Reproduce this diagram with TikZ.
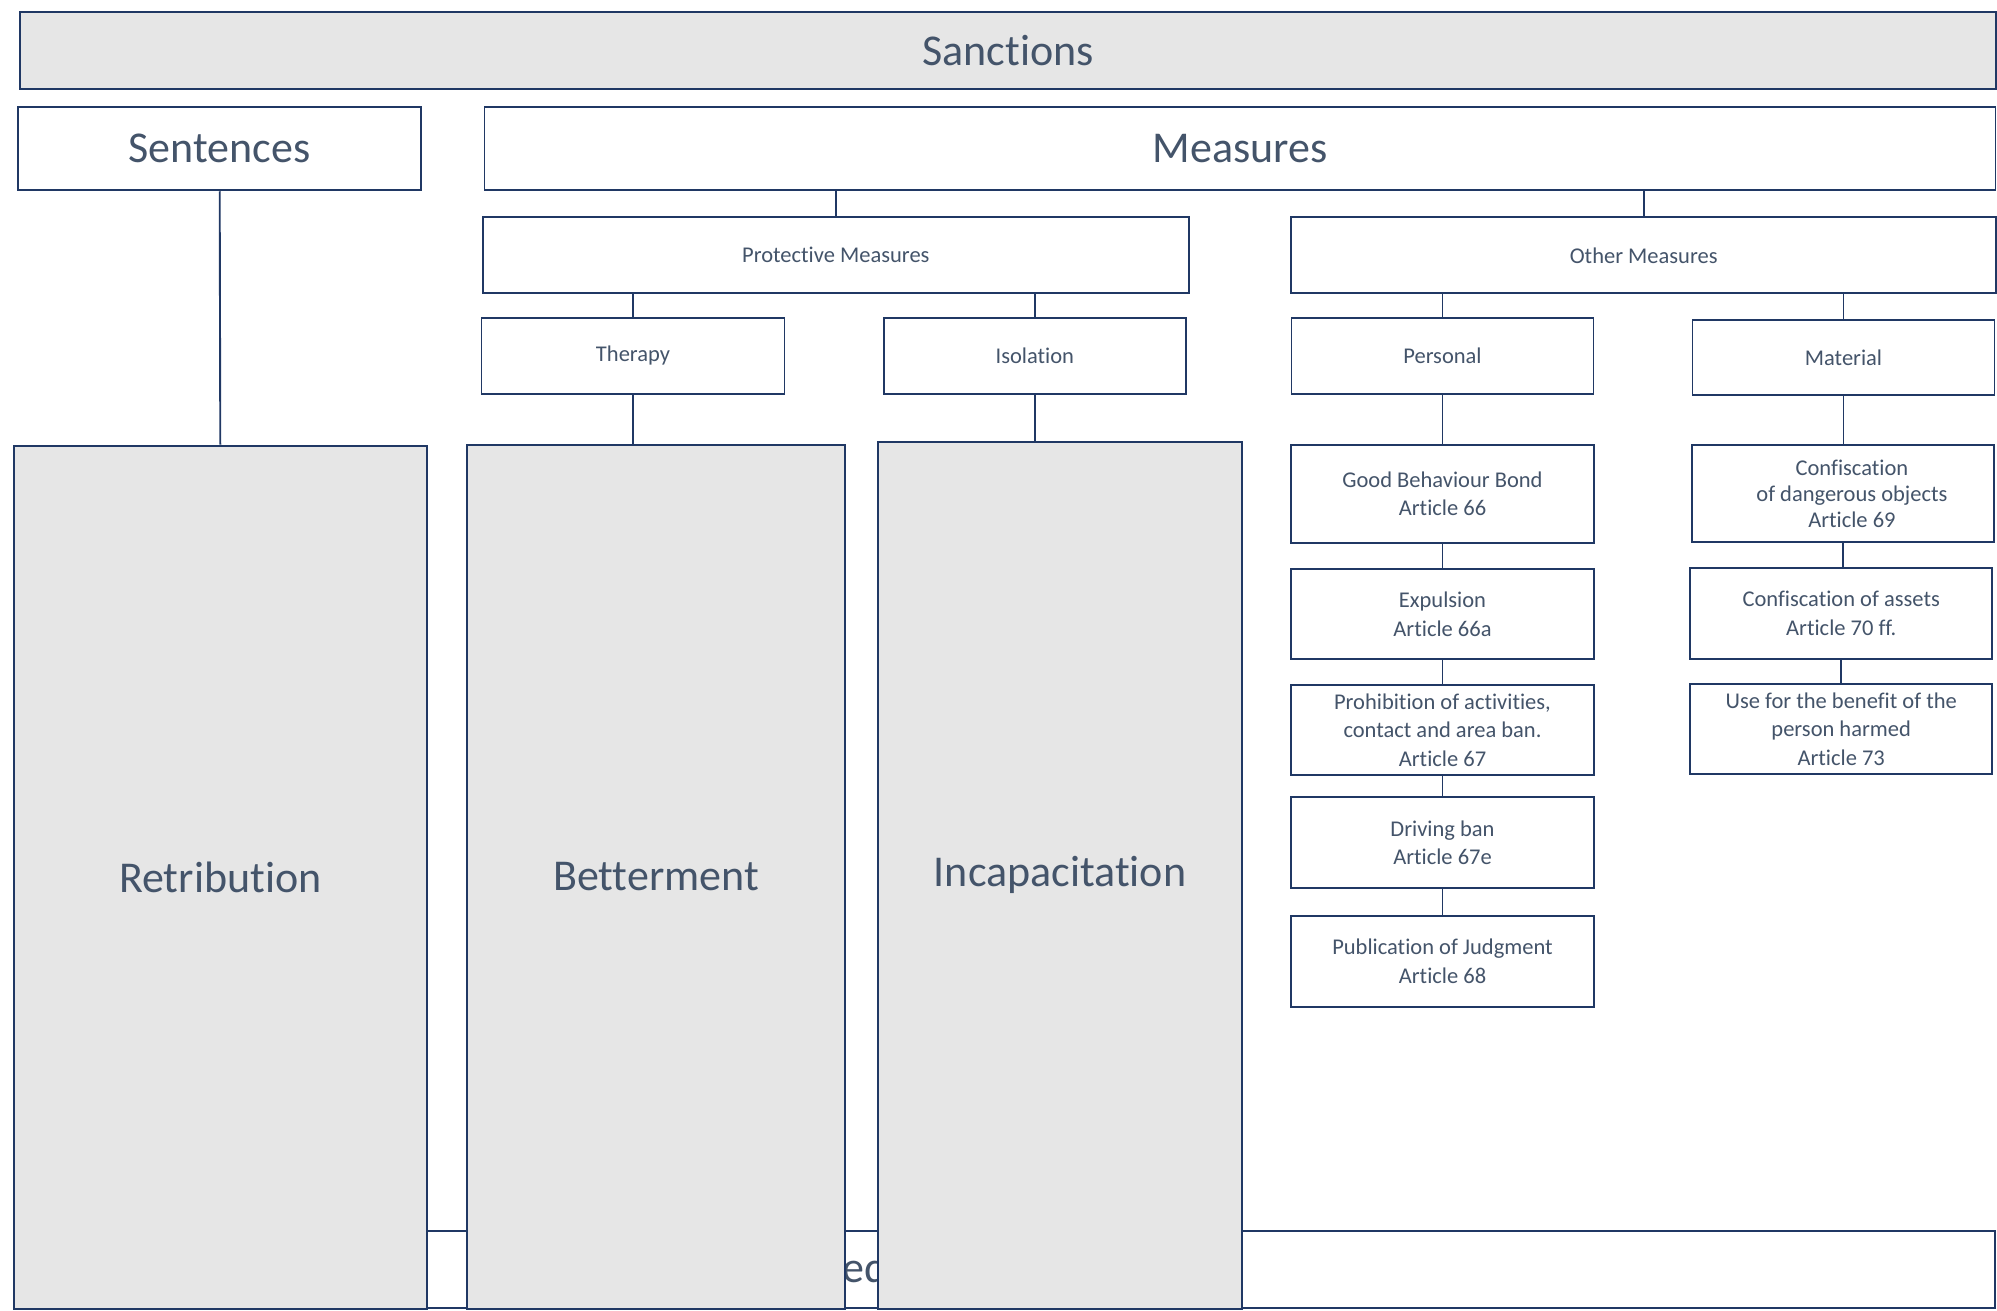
\documentclass[tikz,border=0pt]{standalone}
\usepackage{fontspec}
\setmainfont[Ligatures=NoCommon]{Carlito}
\definecolor{linecol}{HTML}{203864}
\definecolor{textcol}{HTML}{44546A}
\definecolor{boxgray}{HTML}{E6E6E6}
\newcommand{\sancbig}{\fontsize{44}{53}\selectfont}
\newcommand{\sancsmall}{\fontsize{22.5}{28.5}\selectfont}
\begin{document}
\begin{tikzpicture}[x=1pt,y=-1pt,
  box/.style={draw=linecol, line width=1.9pt, fill=white, text=textcol,
    inner sep=0pt, align=center, font=\sancsmall},
  headbox/.style={box, font=\sancbig},
  graybox/.style={box, fill=boxgray, font=\sancbig},
  bigtext/.style={text=textcol, inner sep=0pt, font=\sancbig},
  link/.style={draw=linecol, line width=1.9pt}]
\useasboundingbox (0,0) rectangle (1997,1311);

% bottom band, partly covered by the tall columns
\node[box, minimum width=1975pt, minimum height=77pt] (combined) at (1007.5,1269.5) {};
\node[bigtext, anchor=base east] (combinedlabel) at (888,1282) {Combined};

% top levels
\node[graybox, minimum width=1976pt, minimum height=77.6pt] (sanctions) at (1008,50.5) {Sanctions};
\node[headbox, minimum width=403.4pt, minimum height=83pt] (sentences) at (219.7,148.8) {Sentences};
\node[headbox, minimum width=1511pt, minimum height=83pt] (measures) at (1240,148.8) {Measures};

\node[box, minimum width=705.6pt, minimum height=76pt] (protective) at (835.8,255.3) {Protective Measures};
\node[box, minimum width=704.6pt, minimum height=76pt] (other) at (1643.7,255.3) {Other Measures};

\node[box, minimum width=303pt, minimum height=76.3pt] (therapy) at (633,355.9) {Therapy};
\node[box, minimum width=302.5pt, minimum height=76.3pt] (isolation) at (1034.8,355.9) {Isolation};
\node[box, minimum width=302pt, minimum height=75.4pt] (personal) at (1442.5,356.1) {Personal};
\node[box, minimum width=302pt, minimum height=75pt] (material) at (1843.5,357.3) {Material};

% tall grey columns
\node[graybox, minimum width=412.6pt, minimum height=863.3pt] (retribution) at (220.3,877.3) {Retribution};
\node[graybox, minimum width=378pt, minimum height=864pt] (betterment) at (656,877) {Betterment};
\node[graybox, minimum width=363.4pt, minimum height=867.3pt] (incapacitation) at (1060.1,875.3) {Incapacitation};

% personal measures
\node[box, minimum width=303pt, minimum height=98.6pt] (goodbond) at (1442.5,494) {Good Behaviour Bond\\Article 66};
\node[box, minimum width=303pt, minimum height=90.3pt] (expulsion) at (1442.5,614.2) {Expulsion\\Article 66a};
\node[box, minimum width=303pt, minimum height=90.3pt] (prohibition) at (1442.5,730.2) {Prohibition of activities,\\contact and area ban.\\Article 67};
\node[box, minimum width=303pt, minimum height=91pt] (drivingban) at (1442.5,842.8) {Driving ban\\Article 67e};
\node[box, minimum width=303pt, minimum height=90.7pt] (publication) at (1442.5,961.3) {Publication of Judgment\\Article 68};

% material measures
\node[box, minimum width=302.7pt, minimum height=97.6pt, font=\fontsize{22.5}{26}\selectfont] (dangerous) at (1842.9,493.5)
  {\hspace*{18pt}Confiscation\\\hspace*{18pt}of dangerous objects\\\hspace*{18pt}Article 69};
\node[box, minimum width=302.4pt, minimum height=90.7pt] (assets) at (1841.2,613.4) {Confiscation of assets\\Article 70 ff.};
\node[box, minimum width=302.4pt, minimum height=90.6pt] (benefit) at (1841.2,729) {Use for the benefit of the\\person harmed\\Article 73};

% connectors
\draw[link] (sentences.south) -- (retribution.north);
\draw[link] (protective.north) -- (protective.north |- measures.south);
\draw[link] (other.north) -- (other.north |- measures.south);
\draw[link] (therapy.north) -- (therapy.north |- protective.south);
\draw[link] (isolation.north) -- (isolation.north |- protective.south);
\draw[link] (personal.north) -- (personal.north |- other.south);
\draw[link] (material.north) -- (material.north |- other.south);
\draw[link] (therapy.south) -- (therapy.south |- betterment.north);
\draw[link] (isolation.south) -- (isolation.south |- incapacitation.north);
\draw[link] (personal.south) -- (personal.south |- goodbond.north);
\draw[link] (goodbond.south) -- (goodbond.south |- expulsion.north);
\draw[link] (expulsion.south) -- (expulsion.south |- prohibition.north);
\draw[link] (prohibition.south) -- (prohibition.south |- drivingban.north);
\draw[link] (drivingban.south) -- (drivingban.south |- publication.north);
\draw[link] (material.south) -- (material.south |- dangerous.north);
\draw[link] (dangerous.south) -- (dangerous.south |- assets.north);
\draw[link] (assets.south) -- (assets.south |- benefit.north);
\end{tikzpicture}
\end{document}
